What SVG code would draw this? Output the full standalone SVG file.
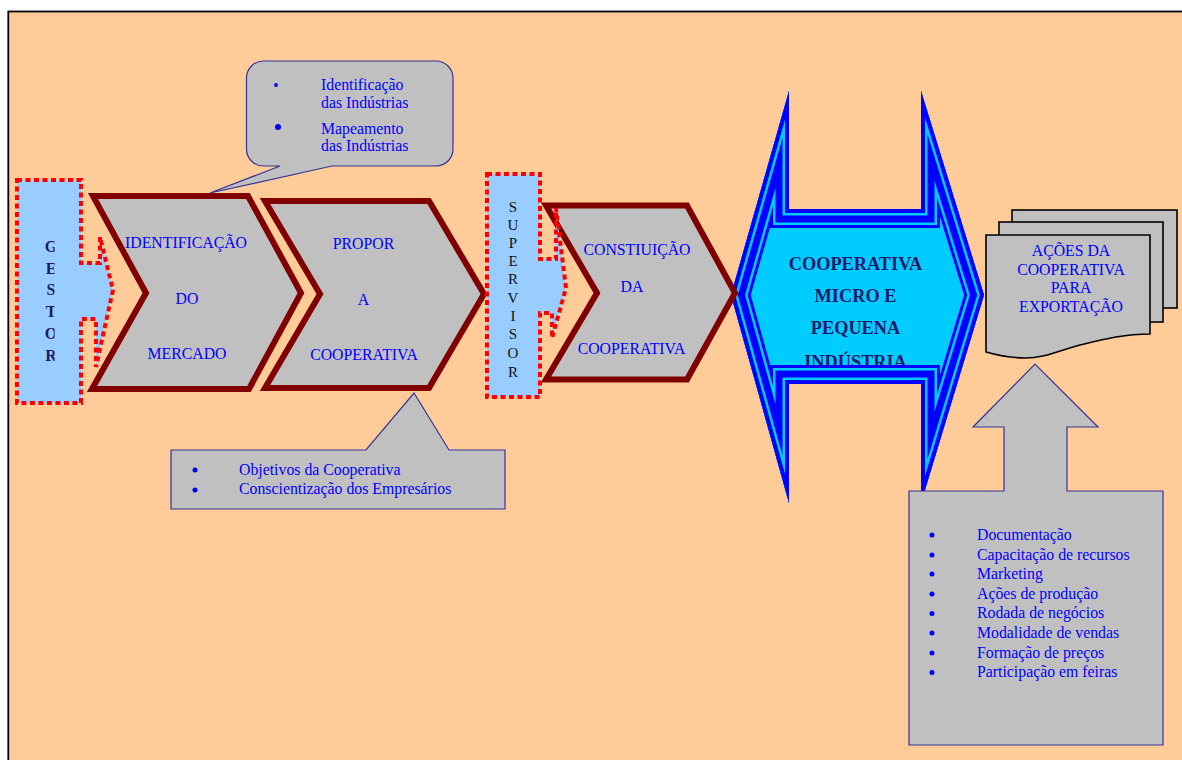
<svg xmlns="http://www.w3.org/2000/svg" width="1182" height="760" viewBox="0 0 1182 760">
<style>
.t{font-family:"Liberation Serif","Times New Roman",serif;font-size:15.8px;fill:#0000FF}
.c{text-anchor:middle}
.chev{fill:#C0C0C0;stroke:#800000;stroke-width:6;stroke-linejoin:miter}
.call{fill:#C0C0C0;stroke:#333399;stroke-width:1.2}
.dash{fill:#99CCFF;stroke:#FF0000;stroke-width:4;stroke-dasharray:5 3.5}
.doc{fill:#C0C0C0;stroke:#000;stroke-width:1.6}
.b{font-family:"Liberation Serif","Times New Roman",serif;font-weight:bold;fill:#1A1A6B;text-anchor:middle}
.sv{font-family:"Liberation Serif","Times New Roman",serif;font-size:15px;fill:#111;text-anchor:middle}
.band{fill:none;stroke-linejoin:miter;stroke-miterlimit:10}
.dot{fill:#0000FF}
</style>
<defs>
<clipPath id="gclip"><rect x="17" y="180" width="37.6" height="222"/></clipPath>
<clipPath id="bigclip"><path d="M789,91 V209 H921 V91 L984,295 L921,503 V384 H789 V503 L731,295 Z"/></clipPath>
</defs>
<rect x="0" y="0" width="1182" height="760" fill="#FFFFFF"/>
<rect x="8.3" y="11.5" width="1200" height="800" fill="#FFCC99" stroke="#000" stroke-width="1.8"/>
<g id="connectors"></g>

<g id="callout-top">
<path class="call" d="M263.5,61 H436 A17,17 0 0 1 453,78 V149 A17,17 0 0 1 436,166 H332 L210,193 L280,166 H263.5 A17,17 0 0 1 246.5,149 V78 A17,17 0 0 1 263.5,61 Z"/>
<circle class="dot" cx="276" cy="85" r="1.9"/>
<text class="t" x="321" y="90">Identificação</text>
<text class="t" x="321" y="107.5">das Indústrias</text>
<circle class="dot" cx="278" cy="127" r="3"/>
<text class="t" x="321" y="133.5">Mapeamento</text>
<text class="t" x="321" y="150.5">das Indústrias</text>
</g>

<g id="callout-bottom">
<path class="call" d="M171,450 H366 L414,393 L449,450 H505 V509 H171 Z"/>
<circle class="dot" cx="195" cy="470" r="2.5"/>
<text class="t" x="239" y="474.5">Objetivos da Cooperativa</text>
<circle class="dot" cx="195" cy="490" r="2.5"/>
<text class="t" x="239" y="494">Conscientização dos Empresários</text>
</g>

<g id="cooperativa">
<path d="M789,91 V209 H921 V91 L984,295 L921,503 V384 H789 V503 L731,295 Z" fill="#00CCFF"/>
<text class="b" x="855.5" y="270" font-size="18.3">COOPERATIVA</text>
<text class="b" x="855.5" y="302" font-size="18.3">MICRO E</text>
<text class="b" x="855.5" y="334" font-size="18.3">PEQUENA</text>
<text class="b" x="855.5" y="367.5" font-size="18.3">INDÚSTRIA</text>
<g clip-path="url(#bigclip)">
<path class="band" stroke="#0000FF" stroke-width="38" d="M789,91 V209 H921 V91 L984,295 L921,503 V384 H789 V503 L731,295 Z"/>
<path class="band" stroke="#00CCFF" stroke-width="32" d="M789,91 V209 H921 V91 L984,295 L921,503 V384 H789 V503 L731,295 Z"/>
<path class="band" stroke="#0000FF" stroke-width="27" d="M789,91 V209 H921 V91 L984,295 L921,503 V384 H789 V503 L731,295 Z"/>
<path class="band" stroke="#00CCFF" stroke-width="13" d="M789,91 V209 H921 V91 L984,295 L921,503 V384 H789 V503 L731,295 Z"/>
<path class="band" stroke="#0000FF" stroke-width="8" d="M789,91 V209 H921 V91 L984,295 L921,503 V384 H789 V503 L731,295 Z"/>
</g>
</g>

<g id="chevron-identificacao">
<path class="chev" d="M93,196 H248 L301,293 L249,389 H92 L146,293 Z"/>
<text class="t c" x="186" y="248">IDENTIFICAÇÃO</text>
<text class="t c" x="187" y="303.5">DO</text>
<text class="t c" x="187" y="359">MERCADO</text>
</g>

<g id="chevron-propor">
<path class="chev" d="M265,201 H429 L484,294 L429,388 H265 L320,294 Z"/>
<text class="t c" x="363.5" y="249">PROPOR</text>
<text class="t c" x="363.5" y="305">A</text>
<text class="t c" x="364" y="360">COOPERATIVA</text>
</g>

<g id="chevron-constituicao">
<path class="chev" d="M546,205.5 H687 L735,293 L687,379.5 H546 L597,293 Z"/>
<text class="t c" x="637" y="255">CONSTIUIÇÃO</text>
<text class="t c" x="632" y="292">DA</text>
<text class="t c" x="631.5" y="353.5">COOPERATIVA</text>
</g>

<g id="gestor">
<path class="dash" d="M17,180 H81 V263 H100 V237 L113,290 L96,367 V319 H81 V403 H17 Z"/>
<g clip-path="url(#gclip)">
<text class="b" x="51" y="252" font-size="16">G</text>
<text class="b" x="51" y="273.5" font-size="16">E</text>
<text class="b" x="51" y="295" font-size="16">S</text>
<text class="b" x="51" y="317" font-size="16">T</text>
<text class="b" x="51" y="339" font-size="16">O</text>
<text class="b" x="51" y="360.5" font-size="16">R</text>
</g>
</g>

<g id="supervisor">
<path class="dash" d="M487,174 H540 V259 H556 V208 L566,288 L552,338 V313 H540 V397 H487 Z"/>
<text class="sv" x="513" y="211.5">S</text>
<text class="sv" x="513" y="229.5">U</text>
<text class="sv" x="513" y="247.5">P</text>
<text class="sv" x="513" y="266">E</text>
<text class="sv" x="513" y="284">R</text>
<text class="sv" x="513" y="302.5">V</text>
<text class="sv" x="513" y="320.5">I</text>
<text class="sv" x="513" y="339">S</text>
<text class="sv" x="513" y="357.5">O</text>
<text class="sv" x="513" y="376.5">R</text>
</g>

<g id="acoes">
<rect class="doc" x="1012" y="210" width="165" height="98"/>
<rect class="doc" x="999" y="222" width="164" height="100"/>
<path class="doc" d="M986,235 H1150 V334 C1125,334 1105,339 1080,345 C1060,350 1045,358 1025,358 C1012,358 1000,356 986,352 Z"/>
<text class="t c" x="1071" y="256">AÇÕES DA</text>
<text class="t c" x="1071" y="274.5">COOPERATIVA</text>
<text class="t c" x="1071" y="293">PARA</text>
<text class="t c" x="1071" y="311.5">EXPORTAÇÃO</text>
</g>

<g id="callout-acoes">
<path class="call" d="M909,491 H1004 V427 H973 L1035,364 L1098,427 H1067 V491 H1163 V745 H909 Z"/>
<circle class="dot" cx="932" cy="535" r="2.5"/>
<text class="t" x="977" y="540">Documentação</text>
<circle class="dot" cx="932" cy="555" r="2.5"/>
<text class="t" x="977" y="560">Capacitação de recursos</text>
<circle class="dot" cx="932" cy="574" r="2.5"/>
<text class="t" x="977" y="579">Marketing</text>
<circle class="dot" cx="932" cy="594" r="2.5"/>
<text class="t" x="977" y="599">Ações de produção</text>
<circle class="dot" cx="932" cy="613.5" r="2.5"/>
<text class="t" x="977" y="618">Rodada de negócios</text>
<circle class="dot" cx="932" cy="633" r="2.5"/>
<text class="t" x="977" y="638">Modalidade de vendas</text>
<circle class="dot" cx="932" cy="653" r="2.5"/>
<text class="t" x="977" y="657.5">Formação de preços</text>
<circle class="dot" cx="932" cy="672.5" r="2.5"/>
<text class="t" x="977" y="677">Participação em feiras</text>
</g>
</svg>
